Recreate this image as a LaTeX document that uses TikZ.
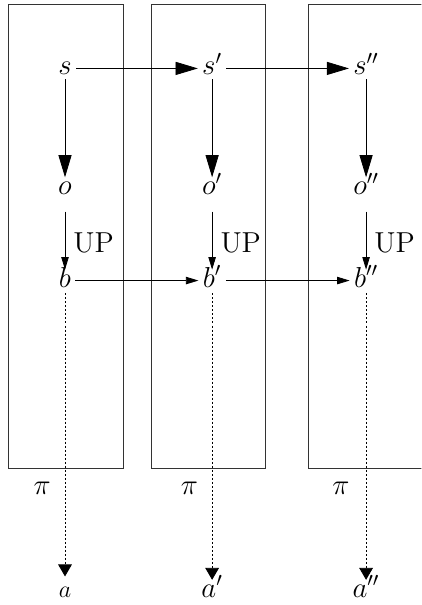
\documentclass[tikz,border=0pt]{standalone}
\usepackage{amsmath}
\usepackage{tikz}
\usetikzlibrary{arrows.meta, positioning}

\tikzset{
  var/.style={font=\Large, inner sep=2pt, text height=1.5ex, text depth=0pt},
  bigarrow/.style={-{Triangle[length=0.39cm, width=0.23cm]}},
  smallarrow/.style={-{Triangle[length=0.22cm, width=0.13cm]}},
  actarrow/.style={dash pattern=on 1pt off 1pt, -{Triangle[length=0.21cm, width=0.24cm]}}
}

\begin{document}
\begin{tikzpicture}

\useasboundingbox (0,0) rectangle (7.39,10.61);
\clip (0,0) rectangle (7.39,10.61);

% one box per time step
\foreach \l/\r in {0.14/2.16, 2.65/4.65, 5.40/7.60}
    \draw[black!80] (\l,2.40) rectangle (\r,10.53);

\node[var] (s1) at (1.14, 9.41) {$s$};
\node[var] (s2) at (3.72, 9.41) {$s'$};
\node[var] (s3) at (6.42, 9.41) {$s''$};

\node[var] (o1) at (1.14, 7.31) {$o$};
\node[var] (o2) at (3.72, 7.31) {$o'$};
\node[var] (o3) at (6.42, 7.31) {$o''$};

\node[var] (b1) at (1.14, 5.69) {$b$};
\node[var] (b2) at (3.72, 5.69) {$b'$};
\node[var] (b3) at (6.42, 5.69) {$b''$};

\node[var, font=\large] (a1) at (1.14, 0.25) {$a$};
\node[var] (a2) at (3.72, 0.25) {$a'$};
\node[var] (a3) at (6.42, 0.25) {$a''$};

\node[font=\Large] (pi1) at (0.74, 2.04) {$\pi$};
\node[font=\Large] (pi2) at (3.32, 2.04) {$\pi$};
\node[font=\Large] (pi3) at (5.98, 2.04) {$\pi$};

% state transitions
\draw[bigarrow] (s1) -- (s2);
\draw[bigarrow] (s2) -- (s3);

\foreach \i in {1,2,3} {
    \draw[bigarrow] (s\i) -- (o\i);
    \draw[smallarrow, shorten <=0.22cm] (o\i) -- node[pos=0.62, right, font=\Large, inner sep=4pt] {UP} (b\i);
}

\draw[smallarrow] (b1) -- (b2);
\draw[smallarrow] (b2) -- (b3);

% policy
\draw[actarrow, shorten <=1pt, shorten >=0.06cm] (b1) -- (a1);
\draw[actarrow, shorten <=1pt] (b2) -- (a2);
\draw[actarrow, shorten <=1pt] (b3) -- (a3);

\end{tikzpicture}
\end{document}
